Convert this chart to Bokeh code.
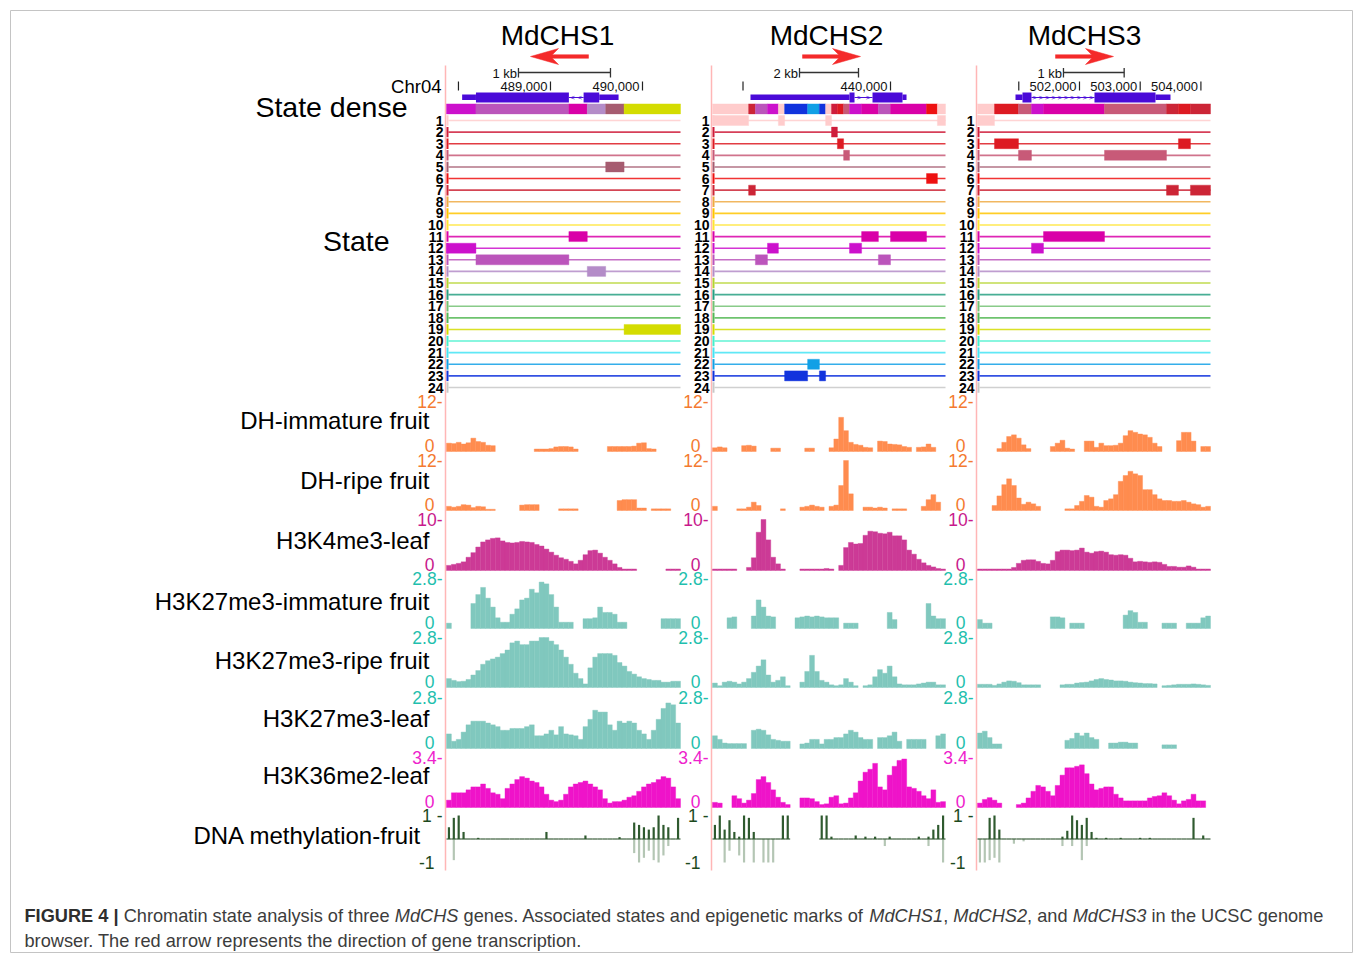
import numpy as np
from bokeh.plotting import figure
from bokeh.models import Range1d
from bokeh.embed import file_html
from bokeh.resources import INLINE
from bokeh.core.properties import value

N = None

# ---------------------------------------------------------------- data
GENES = ["MdCHS1", "MdCHS2", "MdCHS3"]
STRANDS = ["-", "+", "+"]
CHROM = "Chr04"
VIEW_START = [487870, 433966, 500320]
VIEW_END = [490413, 441864, 504158]
TICK_POS = [[488000, 489000, 490000], [435000, 440000], [501000, 502000, 503000, 504000]]
TICK_LAB = [["", "489,000", "490,000"], ["", "440,000"], ["", "502,000", "503,000", "504,000"]]
SCALE_START = [488652, 436915, 501736]
SCALE_LEN = [1000, 2000, 1000]
SCALE_LAB = ["1 kb", "2 kb", "1 kb"]
CDS = [(488190, 489530), (438610, 440407), (501061, 503252)]
EXONS = [[(488040, 489200), (489360, 489740)],
         [(435254, 438780), (439390, 440543)],
         [(500946, 501209), (502247, 503499)]]

STATE_IDS = list(range(1, 25))
STATE_COLORS = ["#ffcccc", "#cf1d3b", "#dd1a22", "#c85a78", "#a65c70", "#ee1111",
                "#cc2536", "#eeaa44", "#ffc400", "#ffe433", "#d900a8", "#cc11cc",
                "#bb55bb", "#b48cc8", "#b5d330", "#27a082", "#74c274", "#55b855",
                "#d4dc00", "#44f0cc", "#44e4f4", "#11a0e6", "#1133dd", "#c8c8c8"]

STATES_P1 = [(487870, 488190, 12), (488190, 489200, 13), (489200, 489400, 11),
             (489400, 489600, 14), (489600, 489800, 5), (489800, 490413, 19)]
STATES_P2 = [(433966, 435190, 1), (435190, 435420, 7), (435420, 435830, 13), (435830, 436200, 12),
             (436200, 436410, 1), (436410, 437190, 23), (437190, 437590, 22), (437590, 437800, 23),
             (437800, 438000, 1), (438000, 438200, 2), (438200, 438410, 3), (438410, 438610, 4),
             (438610, 439020, 12), (439020, 439590, 11), (439590, 440000, 13), (440000, 441220, 11),
             (441220, 441590, 6), (441590, 441864, 1)]
STATES_P3 = [(500320, 500600, 1), (500600, 500995, 3), (500995, 501209, 4), (501209, 501407, 12),
             (501407, 502412, 11), (502412, 503433, 4), (503433, 503630, 7), (503630, 503828, 3),
             (503828, 504158, 7)]
STATE_SEGMENTS = [STATES_P1, STATES_P2, STATES_P3]

TRACK_NAMES = ["DH-immature fruit", "DH-ripe fruit", "H3K4me3-leaf", "H3K27me3-immature fruit",
               "H3K27me3-ripe fruit", "H3K27me3-leaf", "H3K36me2-leaf"]
TRACK_MAX = [12, 12, 10, 2.8, 2.8, 2.8, 3.4]
TRACK_MAX_LABEL = ["12", "12", "10", "2.8", "2.8", "2.8", "3.4"]
METH_NAME = "DNA methylation-fruit"

# 48 equal bins per gene window, None = no data
DH_IMM = [
    [2.0, 1.9, 2.2, 1.8, 2.1, 3.2, 2.4, 2.2, 1.5, 1.4, N, N, N, N, N, N,
     N, N, 0.6, 0.6, 0.6, 0.7, 1.1, 1.2, 1.2, 1.1, 0.6, N, N, N, N, N,
     N, 1.2, 1.2, 1.2, 1.2, 1.2, 1.3, 2.0, 2.1, 0.7, 0.6, N, N, N, N, N],
    [0.9, 1.1, 0.9, N, N, N, 1.4, 1.5, 1.3, N, N, N, 0.8, 0.8, N, N,
     N, N, N, 0.8, 0.8, N, N, N, 0.9, 3.0, 8.2, 5.0, 2.2, 1.7, 1.5, 1.0,
     0.9, N, 2.5, 2.4, 1.8, 1.7, 1.6, 1.2, 1.0, N, 1.0, 1.1, 1.8, 1.0, N, N],
    [N, N, N, N, 0.7, 2.2, 3.6, 4.0, 3.2, 1.6, 0.7, N, N, N, N, 1.2,
     2.0, 2.7, 0.8, 0.6, N, N, 2.5, 2.5, 1.0, 2.0, 1.4, 1.4, 1.5, 2.0, 3.8, 5.0,
     4.6, 4.2, 4.0, 3.4, 2.0, 1.2, N, N, N, 2.6, 4.6, 4.6, 2.5, N, 1.2, 1.2],
]
DH_RIPE = [
    [1.0, 0.8, 1.0, 1.4, 1.3, 0.7, 1.0, 0.9, 0.3, 0.3, N, N, N, N, N, 1.3,
     1.4, 1.4, 1.4, N, N, N, N, 0.4, 0.4, 0.4, 0.4, N, N, N, N, N,
     N, N, N, 2.4, 2.6, 2.6, 2.6, 0.6, 0.6, N, 0.4, 0.4, 0.4, 0.4, N, N],
    [1.0, N, N, N, N, 0.4, 0.4, 0.8, 2.0, 1.2, N, N, N, N, 0.4, N,
     N, N, 0.8, 1.0, 1.3, 1.0, 0.8, N, 1.0, 1.3, 6.0, 12.0, 4.0, N, N, 0.8,
     0.8, 0.6, 0.8, 0.6, N, 0.4, 0.4, 0.4, N, N, N, 1.0, 2.6, 3.8, 2.0, N],
    [N, N, N, 1.2, 3.5, 6.2, 7.6, 6.0, 3.0, 1.5, 2.0, 1.6, 1.0, N, N, N,
     N, N, 0.4, 0.4, 1.2, 2.2, 3.6, 3.2, 1.0, 0.8, 2.4, 2.8, 3.8, 7.0, 8.4, 9.4,
     8.8, 8.4, 5.0, 5.0, 3.8, 2.8, 2.4, 2.4, 2.2, 2.2, 2.4, 2.0, 1.6, 1.4, 0.8, 1.0],
]
H3K4ME3_LEAF = [
    [1.0, 1.2, 1.4, 1.7, 2.6, 3.5, 4.6, 5.6, 6.0, 6.3, 6.4, 5.8, 5.5, 5.4, 5.5, 5.7,
     5.6, 5.5, 5.1, 4.8, 4.2, 3.6, 3.0, 2.5, 2.2, 1.8, 1.3, 2.0, 3.1, 3.9, 4.0, 3.4,
     2.6, 2.0, 1.3, 0.6, 0.3, 0.3, 0.3, N, N, N, N, N, N, 0.3, 0.3, 0.3],
    [0.3, 0.3, 0.3, 0.3, 0.3, N, N, 0.6, 2.5, 7.5, 10.0, 6.0, 2.6, 1.3, 0.3, N,
     N, N, 0.3, 0.3, 0.3, 0.3, 0.3, 0.4, 0.3, N, 1.0, 4.5, 5.5, 5.2, 5.3, 6.9,
     7.7, 7.6, 7.3, 7.2, 7.5, 6.8, 6.8, 6.0, 4.0, 3.2, 2.2, 1.5, 1.0, 0.7, 0.4, 0.3],
    [0.3, 0.3, 0.3, 0.3, 0.3, 0.3, 0.3, 0.6, 1.4, 2.0, 2.1, 2.1, 1.8, 1.4, 1.3, 2.0,
     3.7, 4.0, 4.0, 3.9, 4.0, 4.4, 3.6, 3.4, 3.7, 3.8, 3.6, 3.1, 3.0, 3.1, 3.0, 2.4,
     1.7, 1.8, 1.7, 1.6, 1.7, 1.6, 1.2, 0.8, 0.8, 0.65, 0.65, 0.9, 0.65, 0.3, 0.3, 0.3],
]
H3K27ME3_IMM = [
    [0.3, N, N, N, N, 1.4, 1.9, 2.3, 1.7, 1.2, 0.6, 0.35, 0.35, 0.8, 1.1, 1.6,
     1.7, 2.2, 2.0, 2.6, 2.5, 1.9, 1.2, 0.35, 0.35, 0.35, N, N, 0.55, 0.55, 0.6, 1.2,
     0.9, 0.9, 0.8, 0.35, 0.35, N, N, N, N, N, N, N, 0.55, 0.55, 0.55, 0.55],
    [N, N, N, 0.6, 0.65, N, N, N, 0.7, 1.6, 1.2, 0.7, 0.65, N, N, N,
     N, 0.6, 0.65, 0.7, 0.65, 0.7, 0.65, 0.6, 0.6, 0.6, N, 0.3, 0.3, 0.3, N, N,
     N, N, N, N, 0.9, 0.5, N, N, N, N, N, N, 1.4, 0.7, 0.55, 0.55],
    [0.5, 0.3, 0.3, N, N, N, N, N, N, N, N, N, N, N, N, 0.65,
     0.65, 0.6, N, 0.3, 0.3, 0.3, N, N, N, N, N, N, N, N, 0.75, 1.0,
     0.9, 0.35, 0.35, N, N, N, 0.3, 0.3, 0.3, N, N, 0.3, 0.3, 0.3, 0.6, 0.7],
]
H3K27ME3_RIPE = [
    [0.5, 0.4, 0.33, 0.35, 0.45, 0.7, 0.95, 1.3, 1.5, 1.6, 1.7, 1.9, 2.1, 2.5, 2.6, 2.4,
     2.4, 2.6, 2.6, 2.8, 2.8, 2.6, 2.4, 2.1, 1.7, 1.3, 0.8, 0.5, 0.2, 1.1, 1.7, 1.9,
     1.9, 1.9, 1.8, 1.4, 1.2, 0.9, 0.75, 0.6, 0.5, 0.45, 0.4, 0.4, 0.3, 0.3, 0.35, 0.35],
    [0.25, 0.1, 0.3, 0.35, 0.3, 0.2, 0.3, 0.5, 0.85, 1.2, 1.55, 0.7, 0.3, 0.4, 0.6, 0.1,
     N, N, 0.3, 0.9, 1.8, 0.9, 0.4, 0.3, 0.15, 0.1, 0.15, 0.5, 0.3, 0.1, N, 0.1,
     0.15, 0.6, 1.0, 0.8, 1.2, 0.6, 0.2, 0.15, 0.15, 0.15, 0.2, 0.25, 0.3, 0.3, 0.15, 0.15],
    [0.18, 0.18, 0.18, 0.12, 0.2, 0.3, 0.37, 0.35, 0.27, 0.15, 0.15, 0.15, 0.15, N, N, N,
     N, 0.15, 0.18, 0.18, 0.25, 0.28, 0.3, 0.37, 0.45, 0.5, 0.45, 0.42, 0.37, 0.37, 0.35, 0.3,
     0.27, 0.25, 0.22, 0.22, 0.2, N, 0.1, 0.12, 0.15, 0.18, 0.18, 0.18, 0.2, 0.18, 0.15, 0.12],
]
H3K27ME3_LEAF = [
    [0.8, 0.4, 0.5, 0.9, 1.3, 1.5, 1.5, 1.5, 1.4, 1.3, 1.2, 1.0, 1.0, 1.1, 1.1, 1.1,
     1.2, 1.3, 0.7, 0.7, 0.8, 1.0, 0.75, 1.2, 0.8, 0.75, 0.7, 0.5, 1.2, 1.6, 2.1, 2.0,
     2.0, 1.3, 1.0, 1.5, 1.4, 1.5, 1.4, 1.0, 0.8, 0.5, 1.0, 1.6, 2.2, 2.5, 2.4, 1.4],
    [0.7, 0.5, 0.3, 0.27, 0.27, 0.27, 0.27, N, 1.0, 1.06, 1.0, 0.75, 0.5, 0.45, 0.4, 0.4,
     N, N, 0.25, 0.3, 0.5, 0.5, 0.25, 0.5, 0.5, 0.6, 0.6, 0.8, 1.0, 0.9, 0.6, 0.5,
     0.5, N, 0.6, 0.6, 0.7, 0.9, 0.4, N, 0.5, 0.5, 0.5, 0.5, N, N, 0.7, 0.8],
    [0.85, 0.95, 0.6, 0.25, 0.25, N, N, N, N, N, N, N, N, N, N, N,
     N, N, 0.45, 0.55, 0.85, 0.7, 0.85, 0.6, 0.5, N, N, 0.3, 0.3, 0.35, 0.35, 0.3,
     0.3, N, N, N, N, N, 0.2, 0.2, 0.2, N, N, N, N, N, N, N],
]
H3K36ME2_LEAF = [
    [0.5, 1.0, 1.0, 1.0, 1.2, 1.4, 1.4, 1.6, 1.3, 1.0, 0.9, 0.6, 1.3, 1.6, 1.9, 2.1,
     2.0, 1.8, 1.7, 1.4, 0.9, 0.5, 0.4, 0.5, 0.9, 1.4, 1.6, 1.7, 1.8, 1.6, 1.4, 1.2,
     0.6, 0.3, 0.4, 0.4, 0.5, 0.7, 0.8, 1.1, 1.4, 1.6, 1.7, 1.9, 2.1, 2.0, 1.4, 0.6],
    [0.35, 0.3, N, N, 0.8, 0.6, 0.3, 0.5, 0.95, 1.9, 2.1, 1.7, 1.2, 0.7, 0.35, 0.2,
     N, N, 0.65, 0.65, 0.6, 0.4, 0.2, 0.25, 0.7, 0.8, 0.25, 0.3, 0.65, 1.0, 1.8, 2.4,
     2.6, 3.0, 1.4, 1.2, 2.2, 2.8, 3.2, 3.3, 1.4, 1.3, 1.1, 0.8, 0.6, 1.2, 0.35, 0.4],
    [0.3, 0.55, 0.67, 0.5, 0.3, N, N, N, 0.2, 0.3, 0.65, 1.1, 1.5, 1.4, 1.1, 0.8,
     1.5, 2.2, 2.7, 2.7, 2.8, 2.9, 2.3, 1.6, 1.2, 1.3, 1.4, 1.4, 0.9, 0.65, 0.45, 0.45,
     0.45, 0.45, 0.45, 0.65, 0.75, 0.8, 1.0, 0.8, 0.5, 0.25, 0.45, 0.55, 0.9, 0.45, 0.45, N],
]
TRACKS = [DH_IMM, DH_RIPE, H3K4ME3_LEAF, H3K27ME3_IMM, H3K27ME3_RIPE, H3K27ME3_LEAF, H3K36ME2_LEAF]

METH_HI = [
    [0.5, 0.9, 1.0, 0.3, 0, 0, 0.05, 0,
     0, 0, 0, 0, 0, 0, 0, 0,
     0, 0, 0, 0, 0.3, 0, 0, 0,
     0, 0, 0, 0, 0.15, 0, 0, 0,
     0, 0, 0, 0.08, 0, 0, 0.7, 0.6,
     0.5, 0.4, 0.5, 1.0, 0.6, 0.5, 0, 0.9],
    [0.6, 1.0, 0.4, 0.8, 0.3, 0.1, 1.0, 0.9,
     0.3, 0, 0, 0, 0, 0, 1.0, 1.0,
     N, N, N, N, N, N, 1.0, 1.0,
     0.1, 0, 0, 0, 0, 0.15, 0, 0.1,
     0, 0.1, 0, 0, 0.1, 0, 0, 0,
     0, 0, 0.1, 0, 0.1, 0.4, 0.6, 1.0],
    [0, 0, 0.9, 1.0, 0.4, 0, 0, 0,
     0, 0, 0, 0, 0, 0, 0, 0,
     0, 0.1, 0.35, 1.0, 0.8, 0.6, 0.9, 0.3,
     0.05, 0, 0.05, 0, 0, 0.05, 0, 0,
     0, 0.05, 0, 0.05, 0, 0, 0, 0,
     0, 0, 0, 0, 0.9, 0, 0.15, 0],
]
METH_LO = [
    [0, -0.9, 0, 0, 0, 0, 0, 0,
     0, 0, 0, 0, 0, 0, 0, 0,
     0, 0, 0, 0, 0, 0, 0, 0,
     0, 0, 0, 0, 0, 0, 0, 0,
     0, 0, 0, 0, 0, 0, -0.6, -1.0,
     -0.8, -0.5, -0.9, -1.0, -0.7, -0.3, 0, 0],
    [0, 0, -1.0, -0.5, 0, -0.7, -1.0, 0,
     -1.0, 0, -1.0, -1.0, -1.0, 0, 0, 0,
     N, N, N, N, N, N, 0, 0,
     0, 0, 0, 0, 0, 0, 0, 0,
     0, 0, 0, -0.3, 0, 0, 0, 0,
     0, 0, 0, 0, -0.3, 0, 0, -1.0],
    [-1.0, -1.0, -0.9, -0.8, -1.0, 0, 0, -0.2,
     0, -0.1, 0, 0, 0, 0, 0, 0,
     0, -0.3, 0, -0.3, 0, -0.9, -0.3, 0,
     0, 0, 0, 0, 0, 0, 0, 0,
     0, 0, 0, 0, 0, 0, 0, 0,
     0, 0, 0, 0, 0, 0, 0, 0],
]

CAPTION_L1 = [("FIGURE 4 | ", "bold"), ("Chromatin state analysis of three ", "normal"),
              ("MdCHS", "italic"), (" genes. Associated states and epigenetic marks of ", "normal"),
              ("MdCHS1", "italic"), (", ", "normal"), ("MdCHS2", "italic"), (", and ", "normal"),
              ("MdCHS3", "italic"), (" in the UCSC genome", "normal")]
CAPTION_L2 = [("browser. The red arrow represents the direction of gene transcription.", "normal")]

# ---------------------------------------------------------------- styles / layout
FONT = "Liberation Sans"
TRACK_FILL = ["#ff8c4f", "#ff8c4f", "#cc3a96", "#80c8be", "#80c8be", "#80c8be", "#ef13c9"]
TRACK_LABEL_COLOR = ["#f47a30", "#f47a30", "#c8198c", "#1fbfae", "#1fbfae", "#1fbfae", "#ee22cc"]
GENE_COLOR = "#4a0ad8"
ARROW_COLOR = "#f42a2a"
PINK_LINE = "#ffb6b6"
VAL_FS = 17.5

W, H = 1353, 953
OX, OY = 0, 0
FRAME_BOX = (10, 10, 1352, 952)
PANEL_X0 = [446, 712, 977]
PANEL_X1 = [680, 945, 1210]
LINE_X = [445, 711, 976]
TITLE_X = [557, 826, 1084]
ARROW_X = [559, 831, 1084]
TRACK_TOP = [401, 460, 519, 578, 637, 697, 757]
TRACK_BOT = [451, 510, 570, 628, 687, 748, 807]
TRACK_NAME_Y = [420, 480, 540, 601, 660, 718, 775]
METH_TOP, METH_BOT, METH_NAME_Y = 815, 862, 835
STATE1_Y, STATE24_Y = 120, 387
NB = 48

p = figure(width=W, height=H, x_range=Range1d(OX, OX + W), y_range=Range1d(OY + H, OY),
           output_backend="svg", toolbar_location=None,
           x_axis_location=None, y_axis_location=None, min_border=0)
p.grid.visible = False
p.outline_line_color = None
p.background_fill_color = "white"
p.border_fill_color = "white"


def yrange(v_a, v_b, y_a, y_b):
    """value v_a sits at screen y_a (lower on screen), v_b at screen y_b"""
    u = (v_b - v_a) / (y_a - y_b)
    return Range1d(v_a - (OY + H - y_a) * u, v_b + (y_b - OY) * u)


xr = {}
bpps = []
for i in range(3):
    vs, ve = VIEW_START[i], VIEW_END[i]
    bpp = (ve - vs) / (PANEL_X1[i] - PANEL_X0[i])
    bpps.append(bpp)
    xr[f"g{i}"] = Range1d(vs - (PANEL_X0[i] - OX) * bpp, ve + (OX + W - PANEL_X1[i]) * bpp)
p.extra_x_ranges = xr
yr = {"state": yrange(24, 1, STATE24_Y, STATE1_Y), "meth": yrange(-1, 1, METH_BOT, METH_TOP)}
for t in range(7):
    yr[f"t{t}"] = yrange(0, TRACK_MAX[t], TRACK_BOT[t], TRACK_TOP[t])
p.extra_y_ranges = yr

# frame border
bx0, by0, bx1, by1 = FRAME_BOX
p.quad(left=[bx0], right=[bx1], top=[by0], bottom=[by1], fill_color=None,
       line_color="#c4c4c4", line_width=1)


def txt(x, y, s, size, color="black", align="left", baseline="middle", style="normal", **kw):
    xs = x if isinstance(x, list) else [x]
    ys = y if isinstance(y, list) else [y]
    ss = s if isinstance(s, list) else [s]
    p.text(x=xs, y=ys, text=ss, text_font=value(FONT), text_font_size=value(f"{size}px"),
           text_font_style=value(style), text_color=color, text_align=align,
           text_baseline=baseline, **kw)


# ---------------------------------------------------------------- left labels
txt(407, 106, "State dense", 28.5, align="right")
txt(389, 240, "State", 28.5, align="right")
txt(441, 86, CHROM, 18.5, align="right")
for t in range(7):
    txt(429, TRACK_NAME_Y[t], TRACK_NAMES[t], 24, align="right")
txt(421, METH_NAME_Y, METH_NAME, 24, align="right")

for i in range(3):
    g = f"g{i}"
    vs, ve, bpp = VIEW_START[i], VIEW_END[i], bpps[i]
    # pink left line
    p.segment(x0=[LINE_X[i]], x1=[LINE_X[i]], y0=[65], y1=[870], line_color=PINK_LINE, line_width=1.5)
    # title and strand arrow
    txt(TITLE_X[i], 35, GENES[i], 28, align="center")
    sgn = -1 if STRANDS[i] == "-" else 1
    L, HL, HW, T = 58, 28, 8, 1.8
    tip = ARROW_X[i] + sgn * L / 2
    ay = 56
    px = [tip, tip - sgn * HL, tip - sgn * HL * 0.78, tip - sgn * L, tip - sgn * L,
          tip - sgn * HL * 0.78, tip - sgn * HL]
    py = [ay, ay - HW, ay - T, ay - T, ay + T, ay + T, ay + HW]
    p.patch(x=px, y=py, fill_color=ARROW_COLOR, line_color=ARROW_COLOR, line_width=0.5)
    # scale bar
    s0, s1 = SCALE_START[i], SCALE_START[i] + SCALE_LEN[i]
    p.segment(x0=[s0], x1=[s1], y0=[72], y1=[72], x_range_name=g, line_color="#333333", line_width=1.3)
    p.segment(x0=[s0, s1], x1=[s0, s1], y0=[67.5, 67.5], y1=[77, 77], x_range_name=g,
              line_color="#333333", line_width=1.3)
    txt(s0 - 1.5 * bpp, 73, SCALE_LAB[i], 13, color="#111111", align="right", x_range_name=g)
    # coordinate ticks
    tp = TICK_POS[i]
    p.segment(x0=tp, x1=tp, y0=[81] * len(tp), y1=[90] * len(tp), x_range_name=g,
              line_color="#222222", line_width=1.2)
    txt([v - 3 * bpp for v in tp], [86] * len(tp), TICK_LAB[i], 13, color="#111111",
        align="right", x_range_name=g)
    # gene model
    cs, ce = CDS[i]
    thin, thick = [], []
    for es, ee in EXONS[i]:
        for a, b in [(es, min(ee, cs)), (max(es, ce), ee)]:
            if b > a:
                thin.append((a, b))
        a, b = max(es, cs), min(ee, ce)
        if b > a:
            thick.append((a, b))
    ex = EXONS[i]
    for k in range(len(ex) - 1):
        a, b = ex[k][1], ex[k + 1][0]
        p.segment(x0=[a], x1=[b], y0=[97], y1=[97], x_range_name=g, line_color=GENE_COLOR, line_width=1)
        n = max(1, int((b - a) / bpp / 6))
        cx = [a + (j + 0.5) * (b - a) / n for j in range(n)]
        txt(cx, [97] * n, [">" if sgn > 0 else "<"] * n, 8, color=GENE_COLOR, align="center",
            x_range_name=g)
    p.quad(left=[a for a, b in thin], right=[b for a, b in thin], bottom=[94] * len(thin),
           top=[99.5] * len(thin), x_range_name=g, fill_color=GENE_COLOR, line_color=None)
    p.quad(left=[a for a, b in thick], right=[b for a, b in thick], bottom=[92] * len(thick),
           top=[102] * len(thick), x_range_name=g, fill_color=GENE_COLOR, line_color=None)

    # states
    segs = STATE_SEGMENTS[i]
    p.segment(x0=[vs + 2 * bpp] * 24, x1=[ve] * 24, y0=STATE_IDS, y1=STATE_IDS,
              x_range_name=g, y_range_name="state", line_color=STATE_COLORS, line_width=1.6,
              line_alpha=0.85)
    p.segment(x0=[vs + 1 * bpp] * 24, x1=[vs + 1 * bpp] * 24, y0=[k - 0.45 for k in STATE_IDS],
              y1=[k + 0.45 for k in STATE_IDS], x_range_name=g, y_range_name="state",
              line_color=STATE_COLORS, line_width=2)
    cols = [STATE_COLORS[s - 1] for _, _, s in segs]
    p.quad(left=[a for a, _, _ in segs], right=[b for _, b, _ in segs],
           bottom=[s - 0.43 for _, _, s in segs], top=[s + 0.43 for _, _, s in segs],
           x_range_name=g, y_range_name="state", fill_color=cols, line_color=cols, line_width=0.4)
    p.quad(left=[a for a, _, _ in segs], right=[b for _, b, _ in segs],
           bottom=[-0.43] * len(segs), top=[0.43] * len(segs),
           x_range_name=g, y_range_name="state", fill_color=cols, line_color=cols, line_width=0.4)
    txt([LINE_X[i] - 2] * 24, STATE_IDS, [str(k) for k in STATE_IDS], 14, align="right",
        style="bold", y_range_name="state")

    # signal tracks
    edges = np.linspace(vs, ve, NB + 1)
    centers = (edges[:-1] + edges[1:]) / 2
    for t in range(7):
        vals = TRACKS[t][i]
        Ls, Rs, Ts = [], [], []
        for b, v in enumerate(vals):
            if v is None:
                continue
            Ls.append(edges[b]); Rs.append(edges[b + 1]); Ts.append(min(v, TRACK_MAX[t]))
        p.quad(left=Ls, right=Rs, bottom=[0] * len(Ls), top=Ts, x_range_name=g,
               y_range_name=f"t{t}", fill_color=TRACK_FILL[t], line_color=TRACK_FILL[t],
               line_width=0.4)
        txt(LINE_X[i] - 3, TRACK_MAX[t], TRACK_MAX_LABEL[t] + "-", VAL_FS,
            color=TRACK_LABEL_COLOR[t], align="right", y_range_name=f"t{t}")
        txt(LINE_X[i] - 11, 0, "0", VAL_FS, color=TRACK_LABEL_COLOR[t], align="right",
            baseline="middle", y_offset=-6, y_range_name=f"t{t}")

    # methylation
    hi, lo = METH_HI[i], METH_LO[i]
    bw = edges[1] - edges[0]
    nx = [centers[b] for b in range(NB) if lo[b] is not None and lo[b] < 0]
    nv = [lo[b] for b in range(NB) if lo[b] is not None and lo[b] < 0]
    p.vbar(x=nx, width=bw * 0.45, bottom=nv, top=[0] * len(nv), x_range_name=g,
           y_range_name="meth", fill_color="#b4c6b4", line_color=None)
    bl = [edges[b] for b in range(NB) if hi[b] is not None]
    br = [edges[b + 1] for b in range(NB) if hi[b] is not None]
    p.segment(x0=bl, x1=br, y0=[0] * len(bl), y1=[0] * len(bl), x_range_name=g,
              y_range_name="meth", line_color="#3b5e3b", line_width=1.2)
    px_ = [centers[b] for b in range(NB) if hi[b] is not None and hi[b] > 0]
    pv = [hi[b] for b in range(NB) if hi[b] is not None and hi[b] > 0]
    p.vbar(x=px_, width=bw * 0.45, bottom=[0] * len(pv), top=pv, x_range_name=g,
           y_range_name="meth", fill_color="#2f5a2f", line_color=None)
    txt(LINE_X[i] - 3, 1, "1 -", VAL_FS, color="#1d4a1d", align="right", y_range_name="meth")
    txt(LINE_X[i] - 11, -1, "-1", VAL_FS, color="#1d4a1d", align="right", y_range_name="meth")

# ---------------------------------------------------------------- caption
AW = {' ': 278, ',': 278, '.': 278, '|': 260, '-': 333}
AW.update({d: 556 for d in "0123456789"})
AW.update(dict(zip("ABCDEFGHIJKLMNOPQRSTUVWXYZ",
                   [667, 667, 722, 722, 667, 611, 778, 722, 278, 500, 667, 556, 833, 722, 778,
                    667, 778, 722, 667, 611, 722, 667, 944, 667, 667, 611])))
AW.update(dict(zip("abcdefghijklmnopqrstuvwxyz",
                   [556, 556, 500, 556, 556, 278, 556, 556, 222, 222, 500, 222, 833, 556, 556,
                    556, 556, 333, 500, 278, 556, 500, 722, 500, 500, 500])))


def em(s, style):
    w = 0
    for ch in s:
        c = AW.get(ch, 556)
        if style == "bold" and ch == '|':
            c = 280
        w += c
    return w / 1000.0


CAP_X0, CAP_X1 = 24, 1323
cap_size = (CAP_X1 - CAP_X0) / sum(em(s, st) for s, st in CAPTION_L1)
for line, yy in [(CAPTION_L1, 915), (CAPTION_L2, 940)]:
    x = CAP_X0
    for s, st in line:
        lead = len(s) - len(s.lstrip(" "))
        txt(x + em(" " * lead, st) * cap_size, yy, s.strip(" "), round(cap_size, 2),
            color="#2e2e2e" if st == "bold" else "#3c3c3c", style=st)
        x += em(s, st) * cap_size

open("out.html", "w").write(file_html(p, INLINE))
